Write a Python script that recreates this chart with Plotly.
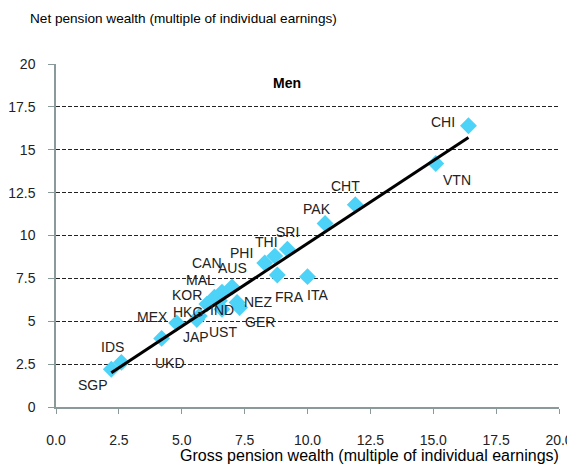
import numpy as np
import plotly.graph_objects as go

countries = ["SGP", "IDS", "UKD", "MEX", "HKG", "JAP", "KOR", "IND", "UST", "MAL", "CAN",
             "AUS", "NEZ", "GER", "PHI", "THI", "SRI", "FRA", "ITA", "PAK", "CHT", "VTN", "CHI"]
gross = [2.2, 2.6, 4.2, 4.8, 5.7, 5.6, 6.0, 6.5, 6.6, 6.3, 6.6,
         7.0, 7.2, 7.3, 8.3, 8.7, 9.2, 8.8, 10.0, 10.7, 11.9, 15.1, 16.4]
net = [2.2, 2.6, 4.0, 4.9, 5.3, 5.1, 6.0, 6.2, 5.7, 6.4, 6.7,
       7.0, 6.1, 5.8, 8.4, 8.8, 9.2, 7.7, 7.6, 10.7, 11.8, 14.2, 16.4]

x_ticks = [0, 2.5, 5, 7.5, 10, 12.5, 15, 17.5, 20]
x_ticktext = ["0.0", "2.5", "5.0", "7.5", "10.0", "12.5", "15.0", "17.5", "20.0"]
y_ticks = [0, 2.5, 5, 7.5, 10, 12.5, 15, 17.5, 20]
y_ticktext = ["0", "2.5", "5", "7.5", "10", "12.5", "15", "17.5", "20"]

# label offsets in pixels (dx, dy up)
label_offsets = {
    "SGP": (-18, -16), "IDS": (-9, 15), "UKD": (8, -25), "MEX": (-24, 6),
    "HKG": (-11, 4), "JAP": (-1, -17), "KOR": (-20, 9), "IND": (3, -9),
    "UST": (1, -23), "MAL": (-14, 17), "CAN": (-15, 29), "AUS": (0, 19),
    "NEZ": (21, 0), "GER": (20, -14), "PHI": (-23, 10), "THI": (-8, 14),
    "SRI": (0, 17), "FRA": (12, -22), "ITA": (10, -18), "PAK": (-8, 15),
    "CHT": (-10, 19), "VTN": (21, -17), "CHI": (-25, 4),
}

FONT = "Liberation Sans"

fig = go.Figure()

fig.add_trace(go.Scatter(
    x=gross, y=net, mode="markers",
    marker=dict(symbol="diamond", size=13, color="#4DD3F7", line=dict(width=0)),
    showlegend=False, hoverinfo="skip",
))

# linear trend line
slope, intercept = np.polyfit(gross, net, 1)
xl = np.array([min(gross), max(gross)])
fig.add_trace(go.Scatter(
    x=xl, y=slope * xl + intercept, mode="lines",
    line=dict(color="black", width=3), showlegend=False, hoverinfo="skip",
))

for c, gx, ny in zip(countries, gross, net):
    dx, dy = label_offsets[c]
    fig.add_annotation(x=gx, y=ny, xref="x", yref="y", text=c, showarrow=False,
                       xshift=dx, yshift=dy, font=dict(family=FONT, size=14, color="#222222"))

fig.add_annotation(x=9.2, y=18.9, xref="x", yref="y", text="<b>Men</b>", showarrow=False,
                   font=dict(family=FONT, size=14, color="black"))

fig.add_annotation(xref="paper", yref="paper", x=0, y=1.0, xshift=-28, yshift=46,
                   xanchor="left", yanchor="middle", showarrow=False,
                   text="Net pension wealth (multiple of individual earnings)",
                   font=dict(family=FONT, size=13.6, color="black"))
fig.add_annotation(xref="paper", yref="paper", x=1.0, y=0.0, yshift=-48, xshift=2,
                   xanchor="right", yanchor="middle", showarrow=False,
                   text="Gross pension wealth (multiple of individual earnings)",
                   font=dict(family=FONT, size=16, color="black"))

# page body has an 8px margin offset
fig.update_layout(
    width=567, height=460,
    margin=dict(l=48, r=16, t=56, b=61, autoexpand=False),
    paper_bgcolor="white", plot_bgcolor="white",
    font=dict(family=FONT, size=14, color="#222222"),
    xaxis=dict(range=[0, 20], tickvals=x_ticks, ticktext=x_ticktext, automargin=False,
               showgrid=False, zeroline=False, showline=True, linecolor="#8A9A9A",
               linewidth=1.5, ticks="outside", ticklen=5, tickcolor="#8A9A9A",
               ticklabelstandoff=14, fixedrange=True),
    yaxis=dict(range=[0, 20], tickvals=y_ticks, ticktext=y_ticktext, automargin=False,
               showgrid=True, gridcolor="#222222", griddash="4px,2px", gridwidth=1.3,
               zeroline=False, showline=True, linecolor="#8A9A9A", linewidth=1.5,
               ticks="outside", ticklen=6, tickcolor="#8A9A9A",
               ticklabelstandoff=10, fixedrange=True),
)

fig.write_html("out.html")
